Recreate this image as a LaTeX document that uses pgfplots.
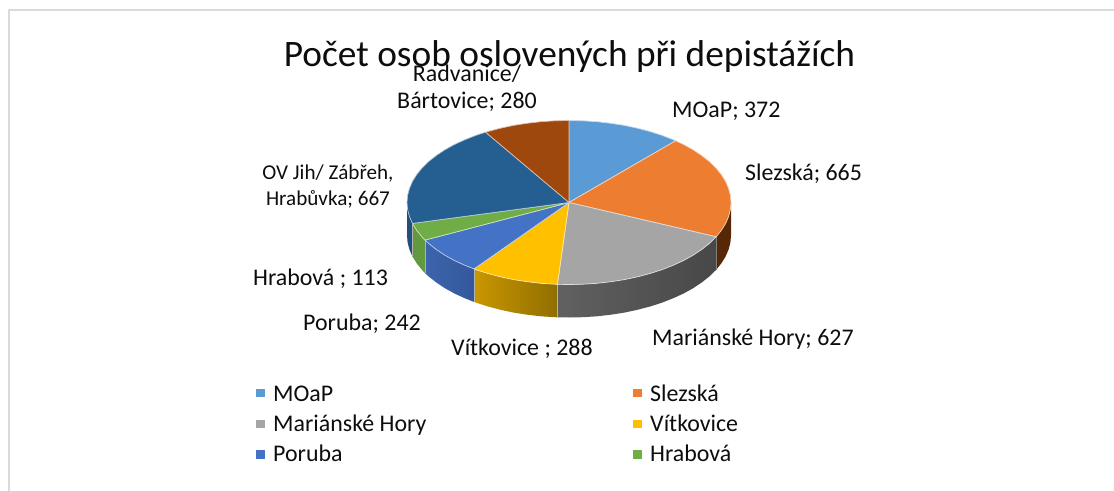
\documentclass[border=0pt]{standalone}
\usepackage{fontspec}
\setmainfont{Carlito}
\usepackage{pgfplots}
\pgfplotsset{compat=1.18}
\definecolor{cMOaP}{HTML}{5B9BD5}
\definecolor{cSlez}{HTML}{ED7D31}
\definecolor{cMar}{HTML}{A5A5A5}
\definecolor{cVit}{HTML}{FFC000}
\definecolor{cPor}{HTML}{4472C4}
\definecolor{cHra}{HTML}{70AD47}
\definecolor{cOV}{HTML}{255E91}
\definecolor{cRad}{HTML}{9E480E}
\tikzset{
    slice/.style={fill=#1, draw=white!65!#1, line width=0.7bp},
    lab/.style={anchor=base west, font=\fontsize{24}{24}\selectfont, text=black!95, inner sep=0pt},
}
\begin{document}
\begin{tikzpicture}
\path[use as bounding box] (0,0) rectangle (1114bp,491bp);
\begin{axis}[
    at={(0,0)}, anchor=south west,
    scale only axis, width=1114bp, height=491bp,
    xmin=0, xmax=1114, ymin=0, ymax=491, y dir=reverse,
    hide axis, clip=false,
    every axis plot/.append style={line join=round},
]
% frame of the chart area
\addplot[color=black!15, line width=1.3bp] coordinates {(9,491) (9,10) (1114,10)};

% side walls, drawn from the pie 372 665 627 288 242 113 667 280
\addplot[fill=cRad!55!black, draw=none] coordinates {(731,202.5) (730.4,209.6) (728.5,216.7) (725.5,223.7) (721.2,230.5) (716.2,236.8) (716.2,269.8) (721.2,263.5) (725.5,256.7) (728.5,249.7) (730.4,242.6) (731,235.5)} -- cycle;
\addplot[draw=none, left color=black!62, middle color=black!76, right color=black!72] coordinates {(716.2,236.8) (709.3,243.5) (701.7,249.5) (693.1,255.2) (683.6,260.5) (673.1,265.3) (661.9,269.7) (650,273.5) (637.5,276.8) (624.4,279.6) (610.9,281.7) (597.1,283.3) (583.1,284.2) (569,284.5) (557.4,284.3) (557.4,317.3) (569,317.5) (583.1,317.2) (597.1,316.3) (610.9,314.7) (624.4,312.6) (637.5,309.8) (650,306.5) (661.9,302.7) (673.1,298.3) (683.6,293.5) (693.1,288.2) (701.7,282.5) (709.3,276.5) (716.2,269.8)} -- cycle;
\addplot[draw=none, left color={rgb,255:red,201;green,151;blue,0}, right color={rgb,255:red,144;green,110;blue,0}] coordinates {(557.4,284.3) (554.9,284.2) (540.9,283.3) (527.1,281.7) (513.6,279.6) (500.5,276.8) (488,273.5) (476.1,269.7) (474,268.9) (474,301.9) (476.1,302.7) (488,306.5) (500.5,309.8) (513.6,312.6) (527.1,314.7) (540.9,316.3) (554.9,317.2) (557.4,317.3)} -- cycle;
\addplot[draw=none, left color={rgb,255:red,60;green,100;blue,173}, right color={rgb,255:red,52;green,88;blue,155}] coordinates {(474,268.9) (464.9,265.3) (454.4,260.5) (444.9,255.2) (436.3,249.5) (428.7,243.5) (425,240.1) (425,273.1) (428.7,276.5) (436.3,282.5) (444.9,288.2) (454.4,293.5) (464.9,298.3) (474,301.9)} -- cycle;
\addplot[draw=none, fill={rgb,255:red,98;green,153;blue,63}] coordinates {(425,240.1) (422.2,237.2) (416.8,230.5) (412.4,223.4) (412.4,256.4) (416.8,263.5) (422.2,270.2) (425,273.1)} -- cycle;
\addplot[draw=none, fill={rgb,255:red,31;green,79;blue,124}] coordinates {(412.4,223.4) (409.5,216.7) (407.6,209.6) (407,202.5) (407,235.5) (407.6,242.6) (409.5,249.7) (412.4,256.4)} -- cycle;
% light seams between the walls
\addplot[color=white!70!black, line width=0.6bp] coordinates {(557.4,284.3) (557.4,317.3)};
\addplot[color=white!70!black, line width=0.6bp] coordinates {(474,268.9) (474,301.9)};
\addplot[color=white!70!black, line width=0.6bp] coordinates {(425,240.1) (425,273.1)};
\addplot[color=white!70!black, line width=0.6bp] coordinates {(412.4,223.4) (412.4,256.4)};
\addplot[color=black!50, line width=0.6bp] coordinates {(716.2,236.8) (716.2,269.8)};

% top of the pie
\addplot[slice=cMOaP] coordinates {(569,202.5) (569,120.5) (583.1,120.8) (597.1,121.7) (610.9,123.3) (624.4,125.4) (637.5,128.2) (650,131.5) (661.9,135.3) (673.1,139.7) (675.6,140.8)} -- cycle;
\addplot[slice=cSlez] coordinates {(569,202.5) (675.6,140.8) (683.6,144.5) (693.1,149.8) (701.7,155.5) (709.3,161.5) (715.8,167.8) (721.2,174.5) (725.5,181.3) (728.5,188.3) (730.4,195.4) (731,202.5) (730.4,209.6) (728.5,216.7) (725.5,223.7) (721.2,230.5) (716.2,236.8)} -- cycle;
\addplot[slice=cMar] coordinates {(569,202.5) (716.2,236.8) (709.3,243.5) (701.7,249.5) (693.1,255.2) (683.6,260.5) (673.1,265.3) (661.9,269.7) (650,273.5) (637.5,276.8) (624.4,279.6) (610.9,281.7) (597.1,283.3) (583.1,284.2) (569,284.5) (557.4,284.3)} -- cycle;
\addplot[slice=cVit] coordinates {(569,202.5) (557.4,284.3) (554.9,284.2) (540.9,283.3) (527.1,281.7) (513.6,279.6) (500.5,276.8) (488,273.5) (476.1,269.7) (474,268.9)} -- cycle;
\addplot[slice=cPor] coordinates {(569,202.5) (474,268.9) (464.9,265.3) (454.4,260.5) (444.9,255.2) (436.3,249.5) (428.7,243.5) (425,240.1)} -- cycle;
\addplot[slice=cHra] coordinates {(569,202.5) (425,240.1) (422.2,237.2) (416.8,230.5) (412.4,223.4)} -- cycle;
\addplot[slice=cOV] coordinates {(569,202.5) (412.4,223.4) (409.5,216.7) (407.6,209.6) (407,202.5) (407.6,195.4) (409.5,188.3) (412.5,181.3) (416.8,174.5) (422.2,167.8) (428.7,161.5) (436.3,155.5) (444.9,149.8) (454.4,144.5) (464.9,139.7) (476.1,135.3) (485.6,132.2)} -- cycle;
\addplot[slice=cRad] coordinates {(569,202.5) (485.6,132.2) (488,131.5) (500.5,128.2) (513.6,125.4) (527.1,123.3) (540.9,121.7) (554.9,120.8) (569,120.5)} -- cycle;

% legend squares
\addplot[only marks, mark=square*, mark size=3.8bp, color=cMOaP] coordinates {(260,392.7)};
\addplot[only marks, mark=square*, mark size=3.8bp, color=cSlez] coordinates {(637,392.7)};
\addplot[only marks, mark=square*, mark size=3.8bp, color=cMar] coordinates {(260,423.5)};
\addplot[only marks, mark=square*, mark size=3.8bp, color=cVit] coordinates {(637,423.5)};
\addplot[only marks, mark=square*, mark size=3.8bp, color=cPor] coordinates {(260,454)};
\addplot[only marks, mark=square*, mark size=3.8bp, color=cHra] coordinates {(637,454)};

% title
\node[anchor=base, font=\fontsize{37.5}{37.5}\selectfont, text=black!95, inner sep=0pt] at (axis cs:569.5,67) {Počet osob oslovených při depistážích};

% data labels
\node[lab, anchor=base] at (axis cs:467,82) {Radvanice/};
\node[lab, anchor=base] at (axis cs:467,108) {Bártovice; 280};
\node[lab] at (axis cs:672,117.5) {MOaP; 372};
\node[lab] at (axis cs:745,180) {Slezská; 665};
\node[lab] at (axis cs:652,345) {Mariánské Hory; 627};
\node[lab] at (axis cs:451,355) {Vítkovice ; 288};
\node[lab] at (axis cs:303,330) {Poruba; 242};
\node[lab] at (axis cs:253,285) {Hrabová ; 113};
\node[lab, anchor=base, font=\fontsize{21.2}{21.2}\selectfont] at (axis cs:328,179) {OV Jih/ Zábřeh,};
\node[lab, anchor=base, font=\fontsize{21.2}{21.2}\selectfont] at (axis cs:328,205) {Hrabůvka; 667};

% legend text
\node[lab] at (axis cs:273,401.7) {MOaP};
\node[lab] at (axis cs:650,401.7) {Slezská};
\node[lab] at (axis cs:273,431.5) {Mariánské Hory};
\node[lab] at (axis cs:650,431.5) {Vítkovice};
\node[lab] at (axis cs:273,461.7) {Poruba};
\node[lab] at (axis cs:650,461.7) {Hrabová};
\end{axis}
\end{tikzpicture}
\end{document}
